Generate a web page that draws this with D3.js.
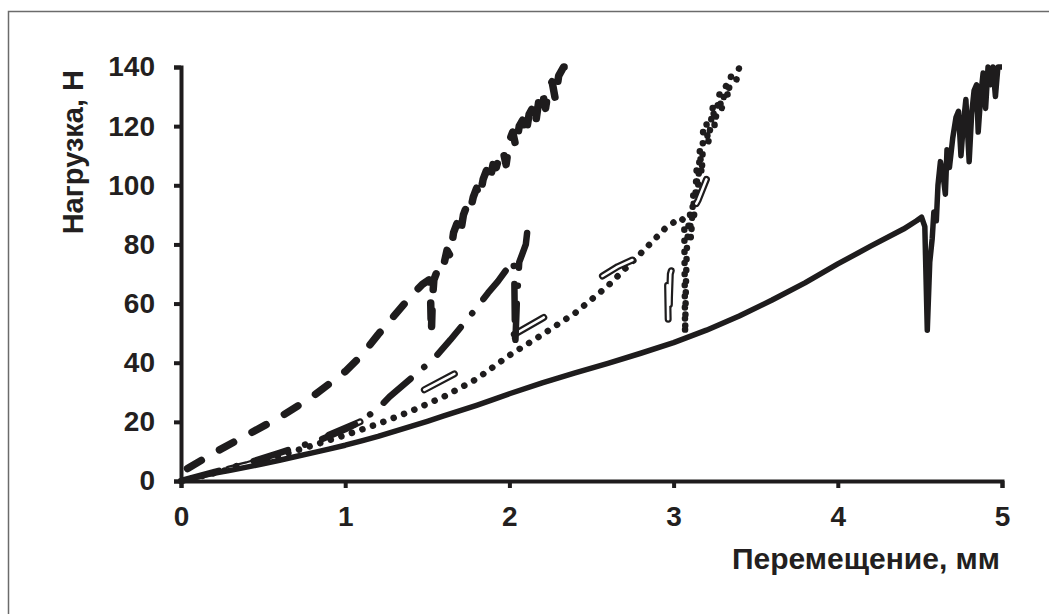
<!DOCTYPE html>
<html><head><meta charset="utf-8">
<script src="https://cdn.jsdelivr.net/npm/d3@7"></script>
<style>
html,body{margin:0;padding:0;background:#fff;}
svg{display:block;}
text{font-family:"Liberation Sans",Arial,sans-serif;font-weight:bold;fill:#231f20;}
</style></head>
<body>
<svg id="c" width="1049" height="614"></svg>
<script>
// ---- data (x: displacement, mm; y: load, N) ----
const xTicks = [0, 1, 2, 3, 4, 5];
const yTicks = [0, 20, 40, 60, 80, 100, 120, 140];
const xTitle = "Перемещение, мм";
const yTitle = "Нагрузка, Н";

// solid curve
const solidX = [0,0.05,0.1,0.2,0.3,0.4,0.5,0.6,0.7,0.8,0.9,1.0,1.1,1.2,1.3,1.4,1.5,1.6,1.7,1.8,1.9,2.0,2.2,2.4,2.6,2.8,3.0,3.2,3.4,3.6,3.8,4.0,4.2,4.4,4.48,4.51,4.53,4.545,4.56,4.575,4.585,4.6,4.61,4.625,4.64,4.655,4.665,4.68,4.70,4.72,4.735,4.75,4.765,4.78,4.80,4.815,4.83,4.845,4.855,4.87,4.885,4.90,4.915,4.93,4.945,4.96,4.975,5.0];
const solidY = [0,0.6,1.4,2.6,3.6,4.7,5.8,7.0,8.3,9.5,10.8,12.1,13.6,15.1,16.8,18.5,20.2,22.0,23.8,25.6,27.5,29.5,33.2,36.6,39.8,43.2,46.8,51.0,55.8,61.2,67.0,73.4,79.4,85.2,88.0,89.2,86,51,74,82,91,88,100,108,104,97,112,106,116,123,125,110,121,129,108,124,132,134,118,130,138,126,140,134,141,130,140,141];

// long-dashed curve
const dashX = [0.04,0.2,0.4,0.6,0.8,1.0,1.1,1.2,1.3,1.4,1.47,1.51,1.52,1.525,1.53,1.54,1.56,1.58,1.60,1.62,1.64,1.66,1.68,1.70,1.72,1.74,1.76,1.78,1.80,1.82,1.84,1.86,1.88,1.90,1.92,1.94,1.96,1.98,2.00,2.02,2.04,2.06,2.08,2.10,2.12,2.14,2.16,2.18,2.20,2.22,2.24,2.26,2.28,2.30,2.33,2.36,2.38,2.40];
const dashY = [4.2,9.5,15.5,21.5,28.5,37.0,42.5,49.5,56,62.5,66.5,68,62,50,60,68,71,74,73,78,76,84,87,83,90,93,91,96,99,96,102,105,101,107,106,110,112,107,115,118,113,120,122,117,124,126,121,129,132,126,133,135,129,137,141,141,138,141];

// dash-dot curve
const dashDotX = [0,0.2,0.4,0.6,0.85,1.0,1.09,1.2,1.27,1.47,1.56,1.64,1.80,1.87,1.93,2.01,2.025,2.03,2.035,2.045,2.06,2.08,2.10,2.11,2.12];
const dashDotY = [0,3,6,9.5,14,17.5,20,24.5,28.5,38,42.6,47.7,58.5,63.6,67.5,73.6,74.5,68,45,60,74,77,80,85,83];

// double (outlined) curve
const doubleX = [0,0.2,0.4,0.6,0.88,1.09,1.3,1.46,1.67,1.85,1.99,2.2,2.35,2.51,2.66,2.8,2.93,2.96,2.97,2.975,2.98,3.0,3.03,3.06,3.1,3.15,3.2];
const doubleY = [0,2.8,5.5,9,15,20,25,30.2,36.4,42,48.3,55,60,67.4,72.5,76,79,77,45,62,70,74,80,84,90,95,102];

// dotted curve
const dotX = [0,0.2,0.4,0.6,0.8,1.0,1.2,1.4,1.6,1.8,2.0,2.2,2.4,2.6,2.8,2.95,3.04,3.065,3.07,3.075,3.08,3.09,3.1,3.105,3.11,3.12,3.125,3.13,3.14,3.145,3.15,3.16,3.17,3.175,3.18,3.2,3.21,3.22,3.24,3.25,3.26,3.28,3.29,3.3,3.32,3.33,3.35,3.38,3.4,3.43];
const dotY = [0,2.6,5.4,8.6,12,15.5,19.3,23.6,28.5,34.5,42.5,49.5,56.8,66,77,85.5,89,88,50,66,78,86,90,82,86,97,90,93,105,97,100,112,104,108,119,121,114,118,127,120,124,131,125,128,134,130,137,135,140,141];

// ---- drawing ----
const svg = d3.select("#c");
const W = 1049, H = 614;
const x = d3.scaleLinear().domain([0, 5]).range([181, 1002]);
const y = d3.scaleLinear().domain([0, 140]).range([481, 67]).clamp(true);
const ink = "#1e1c1d";

// frame
svg.append("path").attr("d", `M8.5,${H} V11.5 H${W}`)
  .attr("fill", "none").attr("stroke", "#6b6b6b").attr("stroke-width", 1.5);

const zip = (xs, ys) => xs.map((v, i) => [v, ys[i]]);
const line = d3.line().x(d => x(d[0])).y(d => y(d[1]));

function phaseAt(pathNode, xv) {
  const total = pathNode.getTotalLength();
  let lo = 0, hi = total;
  for (let k = 0; k < 40; k++) {
    const m = (lo + hi) / 2;
    if (pathNode.getPointAtLength(m).x < x(xv)) lo = m; else hi = m;
  }
  return lo;
}

const g = svg.append("g");

// dotted
g.append("path").datum(zip(dotX, dotY)).attr("d", line)
  .attr("fill", "none").attr("stroke", ink).attr("stroke-width", 6.5)
  .attr("stroke-linecap", "round").attr("stroke-linejoin", "round")
  .attr("stroke-dasharray", "0.1 11");

// double (outlined) line
const dblData = zip(doubleX, doubleY);
const dblOuter = g.append("path").datum(dblData).attr("d", line)
  .attr("fill", "none").attr("stroke", ink).attr("stroke-width", 7)
  .attr("stroke-linecap", "round").attr("stroke-linejoin", "round");
const dblInner = g.append("path").datum(dblData).attr("d", line)
  .attr("fill", "none").attr("stroke", "#fff").attr("stroke-width", 2.6)
  .attr("stroke-linecap", "round").attr("stroke-linejoin", "round");
{
  const dash = 34, gap = 72;
  const L0 = phaseAt(dblOuter.node(), 0.9);
  [dblOuter, dblInner].forEach(p => p.attr("stroke-dasharray", `${dash} ${gap}`).attr("stroke-dashoffset", -L0));
}

// dash-dot
const ddPath = g.append("path").datum(zip(dashDotX, dashDotY)).attr("d", line)
  .attr("fill", "none").attr("stroke", ink).attr("stroke-width", 6.5)
  .attr("stroke-linecap", "round").attr("stroke-linejoin", "round");
{
  const L0 = phaseAt(ddPath.node(), 0.86);
  ddPath.attr("stroke-dasharray", "36 18 0.1 18").attr("stroke-dashoffset", -L0);
}

// long dash
g.append("path").datum(zip(dashX, dashY)).attr("d", line)
  .attr("fill", "none").attr("stroke", ink).attr("stroke-width", 7.5)
  .attr("stroke-linecap", "round").attr("stroke-linejoin", "round")
  .attr("stroke-dasharray", "16 21");

// solid
g.append("path").datum(zip(solidX, solidY)).attr("d", line)
  .attr("fill", "none").attr("stroke", ink).attr("stroke-width", 5.5)
  .attr("stroke-linejoin", "round");

// axes
const xAxis = svg.append("g").attr("transform", `translate(0,${y(0)})`)
  .call(d3.axisBottom(x).tickValues(xTicks).tickFormat(d3.format("d")).tickSizeOuter(0).tickSize(7).tickPadding(18));
const yAxis = svg.append("g").attr("transform", `translate(${x(0)},0)`)
  .call(d3.axisLeft(y).tickValues(yTicks).tickFormat(d3.format("d")).tickSizeOuter(0).tickSize(7).tickPadding(19));
[xAxis, yAxis].forEach(a => {
  a.select(".domain").attr("stroke", ink).attr("stroke-width", 4);
  a.selectAll(".tick line").attr("stroke", ink).attr("stroke-width", 4);
  a.selectAll(".tick text").attr("fill", "#231f20")
    .style("font-family", '"Liberation Sans", Arial, sans-serif')
    .style("font-weight", "bold").style("font-size", "28px");
});

// titles
svg.append("text").attr("x", 1000).attr("y", 569).attr("text-anchor", "end")
  .style("font-size", "30px").text(xTitle);
svg.append("text").attr("transform", "translate(83,70) rotate(-90)")
  .attr("text-anchor", "end").style("font-size", "29px").text(yTitle);
</script>
</body></html>
